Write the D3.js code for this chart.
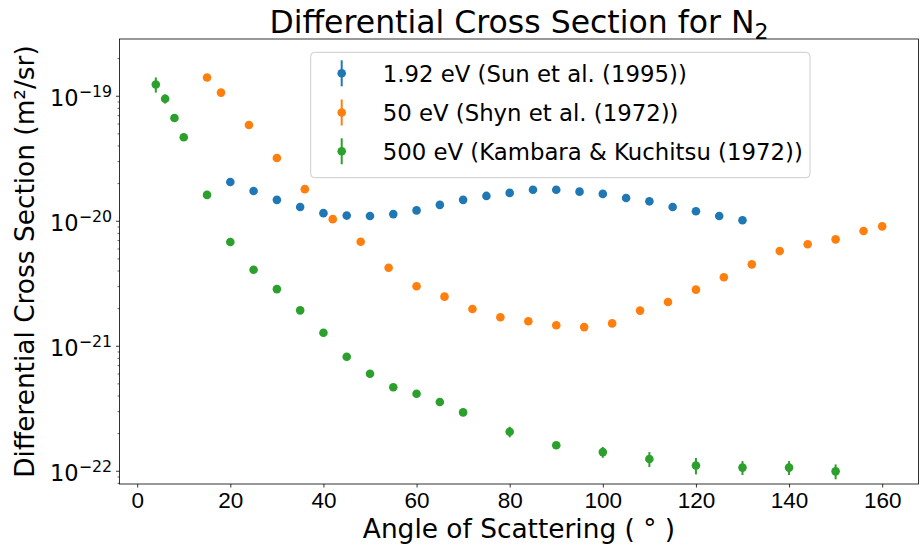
<!DOCTYPE html>
<html>
<head>
<meta charset="utf-8">
<script src="https://cdn.jsdelivr.net/npm/d3@7"></script>
<style>
  html, body { margin: 0; padding: 0; background: #fff; }
  svg { display: block; font-family: "DejaVu Sans", sans-serif; }
</style>
</head>
<body>
<svg id="chart" width="920" height="545"></svg>
<script>
// Electron–N2 differential cross sections (m^2/sr) versus scattering angle (degrees)

// 1.92 eV — Sun et al. (1995)
const angleSun = [20, 25, 30, 35, 40, 45, 50, 55, 60, 65, 70, 75, 80, 85, 90, 95, 100, 105, 110, 115, 120, 125, 130];
const dcsSun = [2.04e-20, 1.73e-20, 1.47e-20, 1.29e-20, 1.15e-20, 1.10e-20, 1.09e-20, 1.13e-20, 1.21e-20, 1.34e-20,
                1.47e-20, 1.58e-20, 1.67e-20, 1.77e-20, 1.77e-20, 1.71e-20, 1.64e-20, 1.52e-20, 1.43e-20, 1.29e-20,
                1.19e-20, 1.09e-20, 1.01e-20];
const errSun = null;

// 50 eV — Shyn et al. (1972)
const angleShyn = [15, 18, 24, 30, 36, 42, 48, 54, 60, 66, 72, 78, 84, 90, 96, 102, 108, 114, 120, 126, 132, 138, 144, 150, 156, 160];
const dcsShyn = [1.40e-19, 1.06e-19, 5.83e-20, 3.18e-20, 1.79e-20, 1.03e-20, 6.79e-21, 4.21e-21, 2.99e-21, 2.47e-21,
                 1.97e-21, 1.69e-21, 1.57e-21, 1.46e-21, 1.41e-21, 1.51e-21, 1.91e-21, 2.24e-21, 2.81e-21, 3.53e-21,
                 4.48e-21, 5.72e-21, 6.48e-21, 7.10e-21, 8.27e-21, 9.02e-21];
const errShyn = null;

// 500 eV — Kambara & Kuchitsu (1972)
const angleKambara = [4, 6, 8, 10, 15, 20, 25, 30, 35, 40, 45, 50, 55, 60, 65, 70, 80, 90, 100, 110, 120, 130, 140, 150];
const dcsKambara = [1.23e-19, 9.46e-20, 6.63e-20, 4.65e-20, 1.61e-20, 6.76e-21, 4.06e-21, 2.84e-21, 1.92e-21, 1.27e-21,
                    8.17e-22, 5.97e-22, 4.65e-22, 4.13e-22, 3.55e-22, 2.93e-22, 2.05e-22, 1.60e-22, 1.41e-22, 1.24e-22,
                    1.10e-22, 1.06e-22, 1.06e-22, 9.89e-23];
const errKambara = [1.7e-20, 8.0e-21, 2.0e-21, 1.4e-21, 4.8e-22, 2.0e-22, 1.2e-22, 8.5e-23, 5.8e-23, 3.8e-23,
                    2.5e-23, 1.8e-23, 1.4e-23, 1.2e-23, 1.1e-23, 9.0e-24, 2.0e-23, 1.0e-23, 1.4e-23, 1.7e-23,
                    1.65e-23, 1.35e-23, 1.35e-23, 1.35e-23];

const seriesLabels = ["1.92 eV (Sun et al. (1995))", "50 eV (Shyn et al. (1972))", "500 eV (Kambara & Kuchitsu (1972))"];
const seriesColors = ["#1f77b4", "#ff7f0e", "#2ca02c"];

const xTicks = [0, 20, 40, 60, 80, 100, 120, 140, 160];
const yTickExponents = [-19, -20, -21, -22];

const series = [
  { x: angleSun, y: dcsSun, err: errSun },
  { x: angleShyn, y: dcsShyn, err: errShyn },
  { x: angleKambara, y: dcsKambara, err: errKambara }
];

const svg = d3.select("#chart");
const plot = { left: 119.5, right: 918.5, top: 39, bottom: 484 };

const x = d3.scaleLinear().domain([-3.8, 167.8]).range([plot.left, plot.right]);
const y = d3.scaleLog().domain([Math.pow(10, -22.106), Math.pow(10, -18.546)]).range([plot.bottom, plot.top]);

// Axes frame
svg.append("rect")
  .attr("x", plot.left).attr("y", plot.top)
  .attr("width", plot.right - plot.left).attr("height", plot.bottom - plot.top)
  .attr("fill", "none").attr("stroke", "#000").attr("stroke-width", 0.8);

// Bottom axis
const xAxis = d3.axisBottom(x).tickValues(xTicks).tickSize(3.5).tickPadding(3.5).tickFormat(d3.format("d"));
const gx = svg.append("g").attr("transform", `translate(0,${plot.bottom})`).call(xAxis);
gx.select(".domain").remove();
gx.selectAll(".tick line").attr("stroke", "#000").attr("stroke-width", 0.8);
gx.selectAll(".tick text").attr("font-size", 22.5).attr("fill", "#000")
  .attr("dy", null).attr("y", 24);

// Left axis: major decades and minor ticks
const [y0, y1] = y.domain();
const minorVals = [];
for (let e = -23; e <= -18; e++) {
  for (let m = 2; m <= 9; m++) {
    const v = m * Math.pow(10, e);
    if (v >= y0 && v <= y1) minorVals.push(v);
  }
}
const gyMinor = svg.append("g").attr("transform", `translate(${plot.left},0)`)
  .call(d3.axisLeft(y).tickValues(minorVals).tickSize(2).tickFormat(""));
gyMinor.select(".domain").remove();
gyMinor.selectAll(".tick line").attr("stroke", "#000").attr("stroke-width", 0.6);

const gy = svg.append("g").attr("transform", `translate(${plot.left},0)`)
  .call(d3.axisLeft(y).tickValues(yTickExponents.map(e => Math.pow(10, e))).tickSize(3.5).tickFormat(""));
gy.select(".domain").remove();
gy.selectAll(".tick line").attr("stroke", "#000").attr("stroke-width", 0.8);

yTickExponents.forEach(e => {
  const t = svg.append("text")
    .attr("x", plot.left - 7.5)
    .attr("y", y(Math.pow(10, e)) + 10.3)
    .attr("text-anchor", "end")
    .attr("font-size", 22.5)
    .attr("fill", "#000");
  t.append("tspan").text("10");
  t.append("tspan").attr("font-size", 15.8).attr("dy", -9.3).text("\u2212" + Math.abs(e));
});

// Data: error bars and markers
series.forEach((s, i) => {
  const g = svg.append("g");
  if (s.err) {
    g.selectAll("line").data(s.x).join("line")
      .attr("x1", (d) => x(d)).attr("x2", (d) => x(d))
      .attr("y1", (d, j) => y(s.y[j] - s.err[j]))
      .attr("y2", (d, j) => y(s.y[j] + s.err[j]))
      .attr("stroke", seriesColors[i]).attr("stroke-width", 2);
  }
  g.selectAll("circle").data(s.x).join("circle")
    .attr("cx", (d) => x(d))
    .attr("cy", (d, j) => y(s.y[j]))
    .attr("r", 4.3)
    .attr("fill", seriesColors[i]);
});

// Legend
const lg = svg.append("g");
lg.append("rect")
  .attr("x", 310.7).attr("y", 52.3).attr("width", 499.3).attr("height", 125.4)
  .attr("rx", 4).attr("fill", "#fff").attr("fill-opacity", 0.8)
  .attr("stroke", "#cccccc").attr("stroke-width", 1);
const rowY = [73.3, 112.5, 151.3];
seriesLabels.forEach((lab, i) => {
  lg.append("line")
    .attr("x1", 341.7).attr("x2", 341.7)
    .attr("y1", rowY[i] - 13).attr("y2", rowY[i] + 13)
    .attr("stroke", seriesColors[i]).attr("stroke-width", 2);
  lg.append("circle").attr("cx", 341.7).attr("cy", rowY[i]).attr("r", 4.3).attr("fill", seriesColors[i]);
  lg.append("text")
    .attr("x", 382.7).attr("y", rowY[i] + 8.6)
    .attr("font-size", 22.8).attr("fill", "#000")
    .text(lab);
});

// Title
const title = svg.append("text")
  .attr("x", (plot.left + plot.right) / 2).attr("y", 33)
  .attr("text-anchor", "middle").attr("font-size", 31.5).attr("fill", "#000");
title.append("tspan").text("Differential Cross Section for N");
title.append("tspan").attr("font-size", 22).attr("dy", 6).text("2");

// Axis labels
svg.append("text")
  .attr("x", (plot.left + plot.right) / 2).attr("y", 538)
  .attr("text-anchor", "middle").attr("font-size", 26.4).attr("fill", "#000")
  .text("Angle of Scattering ( \u00b0 )");

svg.append("text")
  .attr("transform", `translate(34,${(plot.top + plot.bottom) / 2}) rotate(-90)`)
  .attr("text-anchor", "middle").attr("font-size", 26.4).attr("fill", "#000")
  .text("Differential Cross Section (m\u00b2/sr)");
</script>
</body>
</html>
